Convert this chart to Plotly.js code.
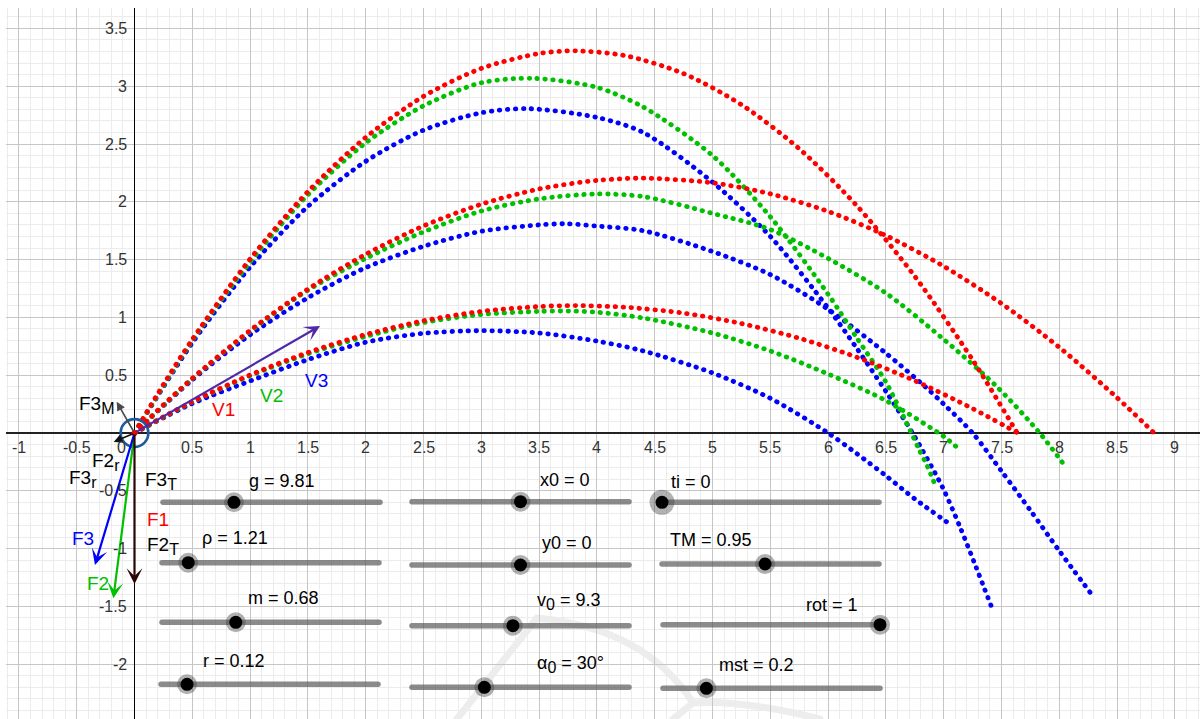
<!DOCTYPE html>
<html><head><meta charset="utf-8">
<script src="https://cdn.plot.ly/plotly-3.0.1.min.js"></script>
<style>
html,body{margin:0;padding:0;background:#fff;overflow:hidden;}
#chart{width:1200px;height:719px;}
.scatterlayer .js-line{stroke-linecap:round !important;}
.shapelayer path{stroke-linecap:round;}
</style></head><body><div id="chart"></div>
<script>
// ---------- trajectory data ----------
// red: no drag; green: drag; blue: drag + Magnus
const red30X=[0,0.25,0.5,1,1.5,2,2.5,3,3.5,3.82,4.25,4.75,5.25,5.75,6.25,6.75,7.25,7.64];
const red30Y=[0,0.140,0.270,0.502,0.696,0.852,0.971,1.052,1.094,1.102,1.088,1.037,0.947,0.820,0.655,0.452,0.211,0];
const red45X=[0,0.25,0.5,1,1.5,2,2.5,3,3.5,4,4.41,5,5.5,6,6.5,7,7.5,8,8.5,8.82];
const red45Y=[0,0.243,0.472,0.887,1.245,1.546,1.791,1.979,2.111,2.185,2.204,2.164,2.069,1.917,1.708,1.442,1.120,0.741,0.305,0];
const red60X=[0,0.25,0.5,1,1.5,2,2.5,3,3.5,3.82,4.25,4.75,5.25,5.75,6.25,6.75,7.25,7.63];
const red60Y=[0,0.419,0.809,1.505,2.088,2.557,2.912,3.154,3.283,3.306,3.263,3.109,2.840,2.459,1.964,1.355,0.633,0.01];

const green30X=[0,0.5,1,1.5,2,2.5,3,3.5,3.75,4,4.4,5,5.5,6,6.5,7,7.11];
const green30Y=[0,0.268,0.495,0.685,0.835,0.955,1.025,1.052,1.055,1.045,0.995,0.865,0.71,0.51,0.28,-0.03,-0.12];
const green45X=[0,0.5,1,1.5,2,2.5,3,3.5,4,4.4,5,5.5,6,6.5,7,7.46,7.83,8.045];
const green45Y=[0,0.47,0.88,1.235,1.51,1.74,1.92,2.025,2.068,2.045,1.90,1.76,1.51,1.21,0.81,0.40,0,-0.28];
const green60X=[0,0.5,1,1.5,2,2.5,3,3.45,4,4.4,5,5.5,6,6.25,6.5,6.72,6.79,6.86,6.93];
const green60Y=[0,0.80,1.48,2.06,2.51,2.83,3.03,3.068,2.99,2.82,2.40,1.87,1.20,0.82,0.44,0,-0.15,-0.29,-0.46];

const blue30X=[0,0.5,1,1.5,2,2.5,3,3.5,4,4.4,5,5.5,6,6.25,6.5,6.75,7.07];
const blue30Y=[0,0.255,0.45,0.635,0.785,0.862,0.885,0.865,0.795,0.71,0.52,0.30,0,-0.18,-0.37,-0.57,-0.80];
const blue45X=[0,0.5,1,1.5,2,2.5,3,3.5,3.73,4,4.4,5,5.5,6,6.5,6.84,7,7.25,7.5,7.75,8,8.29];
const blue45Y=[0,0.46,0.85,1.17,1.43,1.615,1.745,1.80,1.81,1.79,1.75,1.57,1.37,1.07,0.69,0.40,0.25,0,-0.33,-0.67,-1.02,-1.41];
const blue60X=[0,0.5,1,1.5,2,2.5,3,3.4,4,4.4,5,5.5,6,6.25,6.5,6.73,6.99,7.14,7.28,7.42];
const blue60Y=[0,0.78,1.435,1.96,2.35,2.62,2.77,2.806,2.73,2.60,2.17,1.70,1.08,0.73,0.36,0,-0.47,-0.81,-1.16,-1.52];

// ---------- vectors (tips, tails at origin) ----------
const vecNames=['F2','F3','F1','F3M','Fr','V'];
const vecTipX=[-0.183,-0.342,0,-0.154,-0.18,1.605];
const vecTipY=[-1.43,-1.142,-1.306,0.27,-0.077,0.926];
const vecColors=['#00c000','#0000ff','#2b0505','#4a4a4a','#111111','#5028a8'];

const vecLabelMain=['F3','F2','F3','F3','F1','F2','F3','F2','V1','V2','V3'];
const vecLabelSub=['M','r','r','T','','T','','','','',''];
const vecLabelColor=['#000','#000','#000','#000','#ff0000','#000','#0000ff','#00c000','#ff0000','#00c000','#0000ff'];

// ---------- sliders ----------
const sliderNames=['g','ρ','m','r','x0','y0','v','α','ti','TM','rot','mst'];
const sliderSubs=['','','','','','','0','0','','','',''];
const sliderValues=[9.81,1.21,0.68,0.12,0,0,9.3,30,0,0.95,1,0.2];
const sliderText=['9.81','1.21','0.68','0.12','0','0','9.3','30°','0','0.95','1','0.2'];
const sliderMin=[0,0,0,0,-5,-5,0,0,0,0,0,0];
const sliderMax=[30,10,2,1,5,5,20,90,10,2,1,1];

// ---------- axis tick labels ----------
const xTickVals=[-1,-0.5,0.5,1,1.5,2,2.5,3,3.5,4,4.5,5,5.5,6,6.5,7,7.5,8,8.5,9];
const xTickText=['-1','-0.5','0.5','1','1.5','2','2.5','3','3.5','4','4.5','5','5.5','6','6.5','7','7.5','8','8.5','9'];
const yTickVals=[-2,-1.5,-1,-0.5,0.5,1,1.5,2,2.5,3,3.5];
const yTickText=['-2','-1.5','-1','-0.5','0.5','1','1.5','2','2.5','3','3.5'];

// ---------- layout helpers (pixel -> data) ----------
const OX=134.5, OY=433, S=115.6;
const PX=p=>(p-OX)/S, PY=p=>(OY-p)/S;
const FONT='Liberation Sans, Arial, sans-serif';
const subTxt=(m,s,sz)=>s?m+'<sub><span style="font-size:'+sz+'px">'+s+'</span></sub>':m;

const RED='#ff0000', GREEN='#00c000', BLUE='#0000ff';
function traj(x,y,c){return {x:x,y:y,mode:'lines',type:'scatter',hoverinfo:'skip',
  line:{color:c,width:4.8,dash:'0.5px,7.5px',shape:'spline',smoothing:0.8}};}
const traces=[
  traj(blue30X,blue30Y,BLUE),traj(blue45X,blue45Y,BLUE),traj(blue60X,blue60Y,BLUE),
  traj(green30X,green30Y,GREEN),traj(green45X,green45Y,GREEN),traj(green60X,green60Y,GREEN),
  traj(red30X,red30Y,RED),traj(red45X,red45Y,RED),traj(red60X,red60Y,RED),
  {x:[0],y:[0],mode:'markers',type:'scatter',hoverinfo:'skip',marker:{color:RED,size:6}}
];

const shapes=[];
const annotations=[];

// watermark (faint)
shapes.push({type:'path',xref:'x',yref:'y',layer:'below',
  path:'M'+PX(457)+','+PY(719)+' L'+PX(537)+','+PY(618)+' Q'+PX(645)+','+PY(628)+' '+PX(693)+','+PY(703)+
       ' L'+PX(673)+','+PY(719)+' M'+PX(693)+','+PY(703)+' Q'+PX(745)+','+PY(700)+' '+PX(820)+','+PY(719),
  line:{color:'rgba(0,0,0,0.07)',width:7}});

// ball circle
shapes.push({type:'circle',xref:'x',yref:'y',x0:-0.12,x1:0.12,y0:-0.12,y1:0.12,
  line:{color:'#1d5aa0',width:2.6}});

// sliders: layout (pixel positions)
const sliderLeft=[163,162,162,161,412,412,412,412,662,662,663,663];
const sliderLineY=[502.3,562.7,622.3,684.3,501.7,565,625.7,687.3,502.3,564,624.7,688.3];
const sliderLabX=[247,200,246,201,538,540,535,535,669,668,804,717];
const sliderLabY=[481,538,598,661,480,543,601,664,481.5,540,605,665];
const SL=217;
for(let i=0;i<sliderNames.length;i++){
  const L=sliderLeft[i], ly=sliderLineY[i];
  shapes.push({type:'line',xref:'x',yref:'y',x0:PX(L),x1:PX(L+SL),y0:PY(ly),y1:PY(ly),
    line:{color:'rgba(90,90,90,0.7)',width:5.5}});
  const f=(sliderValues[i]-sliderMin[i])/(sliderMax[i]-sliderMin[i]);
  const kx=PX(L+f*SL), ky=PY(ly);
  const hr=(i===8)?12.5:10, kr=6.5;
  shapes.push({type:'circle',xref:'x',yref:'y',xsizemode:'pixel',ysizemode:'pixel',
    xanchor:kx,yanchor:ky,x0:-hr,x1:hr,y0:-hr,y1:hr,fillcolor:'rgba(70,70,70,0.42)',line:{width:0}});
  shapes.push({type:'circle',xref:'x',yref:'y',xsizemode:'pixel',ysizemode:'pixel',
    xanchor:kx,yanchor:ky,x0:-kr,x1:kr,y0:-kr,y1:kr,fillcolor:'#000',line:{width:0}});
  annotations.push({xref:'x',yref:'y',x:PX(sliderLabX[i]),y:PY(sliderLabY[i]),xanchor:'left',yanchor:'middle',
    showarrow:false,text:subTxt(sliderNames[i],sliderSubs[i],16)+' = '+sliderText[i],
    font:{family:FONT,size:18,color:'#000'}});
}

// vectors
for(let i=0;i<vecNames.length;i++){
  const small=(vecNames[i]==='F3M'||vecNames[i]==='Fr');
  annotations.push({xref:'x',yref:'y',axref:'x',ayref:'y',x:vecTipX[i],y:vecTipY[i],ax:0,ay:0,
    text:'',showarrow:true,arrowhead:small?2:3,arrowsize:small?1.1:1.2,arrowwidth:small?1.6:2.2,
    arrowcolor:vecColors[i],standoff:0,startstandoff:0});
}
// vector labels (pixel anchor positions)
const vecLabX=[77,90,67,143,145,145,70,85,210,258,303];
const vecLabY=[405,462,479,481,519,546,538,583,409,395,380];
for(let i=0;i<vecLabelMain.length;i++){
  annotations.push({xref:'x',yref:'y',x:PX(vecLabX[i]),y:PY(vecLabY[i]),xanchor:'left',yanchor:'middle',
    showarrow:false,text:subTxt(vecLabelMain[i],vecLabelSub[i],16),
    font:{family:FONT,size:19,color:vecLabelColor[i]}});
}

// axis tick labels, GeoGebra style (beside the axes)
const tickFont={family:FONT,size:16,color:'#333'};
for(let i=0;i<xTickVals.length;i++){
  annotations.push({xref:'x',yref:'y',x:xTickVals[i],y:0,yshift:-14.5,xanchor:'center',yanchor:'middle',
    showarrow:false,text:xTickText[i],font:tickFont});
}
annotations.push({xref:'x',yref:'y',x:0,y:0,xshift:-7,yshift:-14.5,xanchor:'right',yanchor:'middle',
  showarrow:false,text:'0',font:tickFont});
for(let i=0;i<yTickVals.length;i++){
  annotations.push({xref:'x',yref:'y',x:0,y:yTickVals[i],xshift:-6,xanchor:'right',yanchor:'middle',
    showarrow:false,text:yTickText[i],font:tickFont});
}

const layout={
  width:1200,height:719,margin:{l:6,r:0,t:8,b:0,pad:0},
  paper_bgcolor:'#fff',plot_bgcolor:'#fff',showlegend:false,
  xaxis:{range:[PX(6),PX(1200)],tick0:0,dtick:0.5,showgrid:true,gridcolor:'#c6c6c6',gridwidth:1,
    minor:{tick0:0,dtick:0.1,showgrid:true,gridcolor:'#ececec',gridwidth:1},
    zeroline:true,zerolinecolor:'#000',zerolinewidth:1.5,showticklabels:false,ticks:'',showline:false,fixedrange:true},
  yaxis:{range:[PY(719),PY(8)],tick0:0,dtick:0.5,showgrid:true,gridcolor:'#c6c6c6',gridwidth:1,
    minor:{tick0:0,dtick:0.1,showgrid:true,gridcolor:'#ececec',gridwidth:1},
    zeroline:true,zerolinecolor:'#222',zerolinewidth:1.5,showticklabels:false,ticks:'',showline:false,fixedrange:true},
  shapes:shapes,annotations:annotations
};
Plotly.newPlot('chart',traces,layout,{displayModeBar:false,staticPlot:true});
</script></body></html>
